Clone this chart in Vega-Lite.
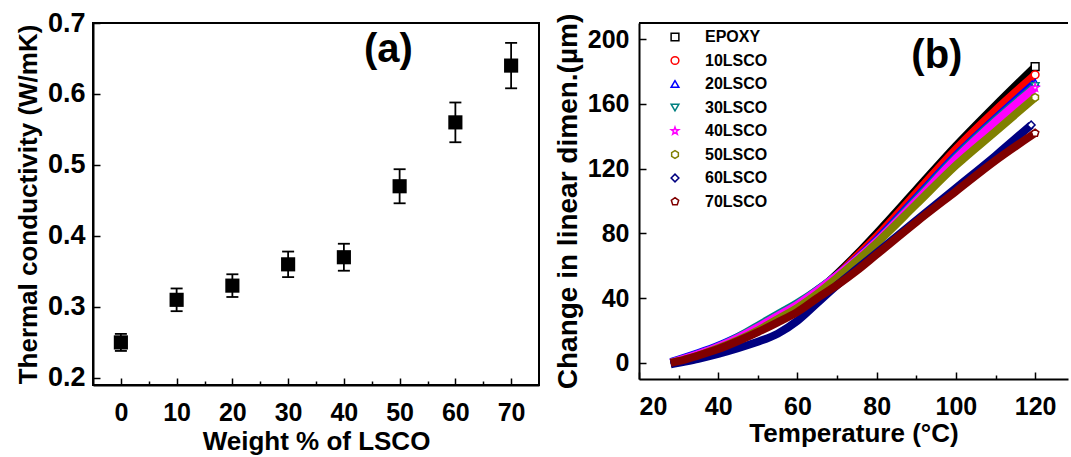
{
  "$schema": "https://vega.github.io/schema/vega-lite/v6.json",
  "padding": {"left": 14, "top": 8, "right": 0, "bottom": 0},
  "spacing": 14,
  "config": {
    "font": "Liberation Sans",
    "view": {"stroke": null},
    "axis": {
      "labelFont": "Liberation Sans", "labelFontWeight": "bold", "labelFontSize": 25, "labelColor": "black",
      "titleFont": "Liberation Sans", "titleFontWeight": "bold", "titleFontSize": 26, "titleColor": "black",
      "domainColor": "black", "domainWidth": 2, "tickColor": "black", "tickWidth": 1.5, "grid": false
    },
    "legend": {
      "labelFont": "Liberation Sans", "labelFontWeight": "bold", "labelFontSize": 16, "labelColor": "black"
    }
  },
  "datasets": {
    "tc": [
      {"w": 0, "k": 0.25, "lo": 0.238, "hi": 0.262},
      {"w": 10, "k": 0.31, "lo": 0.294, "hi": 0.326},
      {"w": 20, "k": 0.33, "lo": 0.314, "hi": 0.346},
      {"w": 30, "k": 0.36, "lo": 0.342, "hi": 0.378},
      {"w": 40, "k": 0.37, "lo": 0.351, "hi": 0.389},
      {"w": 50, "k": 0.47, "lo": 0.446, "hi": 0.494},
      {"w": 60, "k": 0.56, "lo": 0.532, "hi": 0.588},
      {"w": 70, "k": 0.64, "lo": 0.608, "hi": 0.672}
    ],
    "dl": [
      {"s": "EPOXY", "T": 28, "d": 0}, {"s": "EPOXY", "T": 30, "d": 1}, {"s": "EPOXY", "T": 35, "d": 4.5}, {"s": "EPOXY", "T": 40, "d": 9}, {"s": "EPOXY", "T": 45, "d": 14}, {"s": "EPOXY", "T": 50, "d": 20}, {"s": "EPOXY", "T": 55, "d": 27}, {"s": "EPOXY", "T": 60, "d": 35}, {"s": "EPOXY", "T": 65, "d": 44}, {"s": "EPOXY", "T": 70, "d": 55}, {"s": "EPOXY", "T": 75, "d": 67}, {"s": "EPOXY", "T": 80, "d": 80}, {"s": "EPOXY", "T": 90, "d": 107}, {"s": "EPOXY", "T": 100, "d": 134}, {"s": "EPOXY", "T": 110, "d": 159}, {"s": "EPOXY", "T": 120, "d": 183},
      {"s": "10LSCO", "T": 28, "d": 0}, {"s": "10LSCO", "T": 30, "d": 1}, {"s": "10LSCO", "T": 35, "d": 4.5}, {"s": "10LSCO", "T": 40, "d": 9}, {"s": "10LSCO", "T": 45, "d": 14.5}, {"s": "10LSCO", "T": 50, "d": 20.5}, {"s": "10LSCO", "T": 55, "d": 27.5}, {"s": "10LSCO", "T": 60, "d": 35}, {"s": "10LSCO", "T": 65, "d": 44}, {"s": "10LSCO", "T": 70, "d": 54}, {"s": "10LSCO", "T": 75, "d": 66}, {"s": "10LSCO", "T": 80, "d": 78}, {"s": "10LSCO", "T": 90, "d": 105}, {"s": "10LSCO", "T": 100, "d": 132}, {"s": "10LSCO", "T": 110, "d": 156}, {"s": "10LSCO", "T": 120, "d": 178},
      {"s": "20LSCO", "T": 28, "d": 0.5}, {"s": "20LSCO", "T": 30, "d": 2}, {"s": "20LSCO", "T": 35, "d": 6}, {"s": "20LSCO", "T": 40, "d": 10.5}, {"s": "20LSCO", "T": 45, "d": 16}, {"s": "20LSCO", "T": 50, "d": 22}, {"s": "20LSCO", "T": 55, "d": 29}, {"s": "20LSCO", "T": 60, "d": 36}, {"s": "20LSCO", "T": 65, "d": 45}, {"s": "20LSCO", "T": 70, "d": 54}, {"s": "20LSCO", "T": 75, "d": 64.5}, {"s": "20LSCO", "T": 80, "d": 76}, {"s": "20LSCO", "T": 90, "d": 102}, {"s": "20LSCO", "T": 100, "d": 128}, {"s": "20LSCO", "T": 110, "d": 151}, {"s": "20LSCO", "T": 120, "d": 173},
      {"s": "30LSCO", "T": 28, "d": 0}, {"s": "30LSCO", "T": 30, "d": 1.5}, {"s": "30LSCO", "T": 35, "d": 5.5}, {"s": "30LSCO", "T": 40, "d": 10}, {"s": "30LSCO", "T": 45, "d": 16}, {"s": "30LSCO", "T": 50, "d": 23}, {"s": "30LSCO", "T": 55, "d": 30}, {"s": "30LSCO", "T": 60, "d": 37}, {"s": "30LSCO", "T": 65, "d": 45}, {"s": "30LSCO", "T": 70, "d": 54}, {"s": "30LSCO", "T": 75, "d": 64}, {"s": "30LSCO", "T": 80, "d": 75}, {"s": "30LSCO", "T": 90, "d": 101}, {"s": "30LSCO", "T": 100, "d": 127}, {"s": "30LSCO", "T": 110, "d": 150}, {"s": "30LSCO", "T": 120, "d": 171},
      {"s": "40LSCO", "T": 28, "d": 0}, {"s": "40LSCO", "T": 30, "d": 1.5}, {"s": "40LSCO", "T": 35, "d": 5.5}, {"s": "40LSCO", "T": 40, "d": 10}, {"s": "40LSCO", "T": 45, "d": 15.5}, {"s": "40LSCO", "T": 50, "d": 22}, {"s": "40LSCO", "T": 55, "d": 29}, {"s": "40LSCO", "T": 60, "d": 36}, {"s": "40LSCO", "T": 65, "d": 44.5}, {"s": "40LSCO", "T": 70, "d": 54}, {"s": "40LSCO", "T": 75, "d": 64}, {"s": "40LSCO", "T": 80, "d": 75}, {"s": "40LSCO", "T": 90, "d": 100}, {"s": "40LSCO", "T": 100, "d": 126}, {"s": "40LSCO", "T": 110, "d": 149}, {"s": "40LSCO", "T": 120, "d": 170},
      {"s": "50LSCO", "T": 28, "d": 0}, {"s": "50LSCO", "T": 30, "d": 1}, {"s": "50LSCO", "T": 35, "d": 4.5}, {"s": "50LSCO", "T": 40, "d": 9}, {"s": "50LSCO", "T": 45, "d": 14}, {"s": "50LSCO", "T": 50, "d": 20}, {"s": "50LSCO", "T": 55, "d": 27}, {"s": "50LSCO", "T": 60, "d": 34}, {"s": "50LSCO", "T": 65, "d": 42.5}, {"s": "50LSCO", "T": 70, "d": 52.5}, {"s": "50LSCO", "T": 75, "d": 63}, {"s": "50LSCO", "T": 80, "d": 74}, {"s": "50LSCO", "T": 90, "d": 98}, {"s": "50LSCO", "T": 100, "d": 122}, {"s": "50LSCO", "T": 110, "d": 143}, {"s": "50LSCO", "T": 120, "d": 164},
      {"s": "60LSCO", "T": 28, "d": -1}, {"s": "60LSCO", "T": 30, "d": 0}, {"s": "60LSCO", "T": 35, "d": 2.5}, {"s": "60LSCO", "T": 40, "d": 5.5}, {"s": "60LSCO", "T": 45, "d": 9}, {"s": "60LSCO", "T": 50, "d": 13}, {"s": "60LSCO", "T": 55, "d": 18}, {"s": "60LSCO", "T": 60, "d": 26}, {"s": "60LSCO", "T": 65, "d": 37}, {"s": "60LSCO", "T": 70, "d": 48}, {"s": "60LSCO", "T": 75, "d": 58}, {"s": "60LSCO", "T": 80, "d": 68}, {"s": "60LSCO", "T": 90, "d": 88}, {"s": "60LSCO", "T": 100, "d": 108}, {"s": "60LSCO", "T": 110, "d": 128}, {"s": "60LSCO", "T": 119, "d": 147},
      {"s": "70LSCO", "T": 28, "d": 0}, {"s": "70LSCO", "T": 30, "d": 1}, {"s": "70LSCO", "T": 35, "d": 4.5}, {"s": "70LSCO", "T": 40, "d": 8.5}, {"s": "70LSCO", "T": 45, "d": 13.5}, {"s": "70LSCO", "T": 50, "d": 19}, {"s": "70LSCO", "T": 55, "d": 25}, {"s": "70LSCO", "T": 60, "d": 31.5}, {"s": "70LSCO", "T": 65, "d": 40}, {"s": "70LSCO", "T": 70, "d": 48}, {"s": "70LSCO", "T": 75, "d": 57}, {"s": "70LSCO", "T": 80, "d": 67}, {"s": "70LSCO", "T": 90, "d": 87}, {"s": "70LSCO", "T": 100, "d": 106}, {"s": "70LSCO", "T": 110, "d": 125}, {"s": "70LSCO", "T": 120, "d": 142}
    ]
  },
  "hconcat": [
    {
      "width": 446,
      "height": 362,
      "view": {"stroke": "black", "strokeWidth": 2},
      "data": {"name": "tc"},
      "encoding": {
        "x": {
          "field": "w", "type": "quantitative",
          "scale": {"domain": [-5, 75], "nice": false, "zero": false},
          "axis": {
            "title": "Weight % of LSCO",
            "values": [0, 5, 10, 15, 20, 25, 30, 35, 40, 45, 50, 55, 60, 65, 70],
            "labelExpr": "datum.value % 10 === 0 ? datum.label : ''",
            "tickSize": {"condition": {"test": "datum.value % 10 === 0", "value": -7}, "value": -4},
            "labelFontWeight": "bold", "labelFontSize": 25,
            "labelPadding": 22, "titlePadding": 3
          }
        }
      },
      "layer": [
        {
          "mark": {"type": "rule", "strokeWidth": 1.8, "color": "black"},
          "encoding": {
            "y": {
              "field": "lo", "type": "quantitative",
              "scale": {"domain": [0.19, 0.70], "nice": false, "zero": false},
              "axis": {
                "title": "Thermal conductivity (W/mK)",
                "values": [0.2, 0.25, 0.3, 0.35, 0.4, 0.45, 0.5, 0.55, 0.6, 0.65, 0.7],
                "format": ".1f",
                "labelExpr": "round(datum.value * 100) % 10 === 0 ? datum.label : ''",
                "tickSize": {"condition": {"test": "round(datum.value * 100) % 10 === 0", "value": -7}, "value": -4},
                "labelFontWeight": "bold", "labelFontSize": 27,
                "labelPadding": 15, "titlePadding": 6
              }
            },
            "y2": {"field": "hi"}
          }
        },
        {
          "mark": {"type": "tick", "orient": "horizontal", "size": 12, "thickness": 1.8, "color": "black", "opacity": 1},
          "encoding": {"y": {"field": "lo", "type": "quantitative"}}
        },
        {
          "mark": {"type": "tick", "orient": "horizontal", "size": 12, "thickness": 1.8, "color": "black", "opacity": 1},
          "encoding": {"y": {"field": "hi", "type": "quantitative"}}
        },
        {
          "mark": {"type": "square", "size": 200, "color": "black", "opacity": 1},
          "encoding": {"y": {"field": "k", "type": "quantitative"}}
        },
        {
          "transform": [{"filter": "datum.w === 70"}],
          "mark": {"type": "text", "fontSize": 40, "fontWeight": "bold", "font": "Liberation Sans", "color": "black"},
          "encoding": {
            "x": {"datum": 48},
            "y": {"datum": 0.662},
            "text": {"value": "(a)"}
          }
        }
      ]
    },
    {
      "width": 429,
      "height": 356,
      "data": {"name": "dl"},
      "resolve": {"legend": {"color": "independent", "shape": "independent"}},
      "layer": [
        {
          "transform": [{"filter": "datum.T === 28 && datum.s === 'EPOXY'"}],
          "mark": {"type": "rule", "strokeWidth": 2, "color": "black"},
          "encoding": {"y": {"datum": 210, "type": "quantitative"}}
        },
        {
          "mark": {"type": "line", "strokeWidth": 8, "interpolate": "monotone"},
          "encoding": {
            "x": {
              "field": "T", "type": "quantitative",
              "scale": {"domain": [20, 128.3], "nice": false, "zero": false},
              "axis": {
                "title": "Temperature (°C)",
                "values": [20, 30, 40, 50, 60, 70, 80, 90, 100, 110, 120],
                "labelExpr": "datum.value % 20 === 0 ? datum.label : ''",
                "tickSize": {"condition": {"test": "datum.value % 20 === 0", "value": -7}, "value": -4},
                "labelFontWeight": "bold", "labelFontSize": 25,
                "labelPadding": 22, "titlePadding": 1
              }
            },
            "y": {
              "field": "d", "type": "quantitative",
              "scale": {"domain": [-10, 210], "nice": false, "zero": false},
              "axis": {
                "title": "Change in linear dimen.(µm)",
                "values": [0, 20, 40, 60, 80, 100, 120, 140, 160, 180, 200],
                "labelExpr": "datum.value % 40 === 0 ? datum.label : ''",
                "tickSize": {"condition": {"test": "datum.value % 40 === 0", "value": -7}, "value": -4},
                "labelFontWeight": "bold", "labelFontSize": 25, "titleFontSize": 28,
                "labelPadding": 17, "titlePadding": 5
              }
            },
            "color": {
              "field": "s", "type": "nominal",
              "scale": {
                "domain": ["EPOXY", "10LSCO", "20LSCO", "30LSCO", "40LSCO", "50LSCO", "60LSCO", "70LSCO"],
                "range": ["#000000", "#ff0000", "#0000ff", "#008080", "#ff00ff", "#808000", "#000080", "#800000"]
              },
              "legend": null
            }
          }
        },
        {
          "transform": [{"filter": "datum.T >= 119"}],
          "mark": {"type": "point", "filled": false, "fill": "white", "fillOpacity": 1, "strokeWidth": 1.5, "size": 60, "opacity": 1},
          "encoding": {
            "x": {"field": "T", "type": "quantitative"},
            "y": {"field": "d", "type": "quantitative"},
            "color": {
              "field": "s", "type": "nominal",
              "scale": {
                "domain": ["EPOXY", "10LSCO", "20LSCO", "30LSCO", "40LSCO", "50LSCO", "60LSCO", "70LSCO"],
                "range": ["#000000", "#ff0000", "#0000ff", "#008080", "#ff00ff", "#808000", "#000080", "#800000"]
              },
              "legend": {
                "title": null, "orient": "none", "legendX": 28, "legendY": 6,
                "symbolSize": 60, "symbolStrokeWidth": 1.5, "rowPadding": 7.5, "labelOffset": 22
              }
            },
            "shape": {
              "field": "s", "type": "nominal",
              "scale": {
                "domain": ["EPOXY", "10LSCO", "20LSCO", "30LSCO", "40LSCO", "50LSCO", "60LSCO", "70LSCO"],
                "range": [
                  "square", "circle", "triangle-up", "triangle-down",
                  "M0,-1L0.235,-0.324L0.951,-0.309L0.38,0.124L0.588,0.809L0,0.4L-0.588,0.809L-0.38,0.124L-0.951,-0.309L-0.235,-0.324Z",
                  "M0,-1L0.866,-0.5L0.866,0.5L0,1L-0.866,0.5L-0.866,-0.5Z",
                  "diamond",
                  "M0,-1L0.951,-0.309L0.588,0.809L-0.588,0.809L-0.951,-0.309Z"
                ]
              },
              "legend": {
                "title": null, "orient": "none", "legendX": 28, "legendY": 6,
                "symbolSize": 60, "symbolStrokeWidth": 1.5, "rowPadding": 7.5, "labelOffset": 22
              }
            }
          }
        },
        {
          "transform": [{"filter": "datum.T === 28 && datum.s === 'EPOXY'"}],
          "mark": {"type": "text", "fontSize": 40, "fontWeight": "bold", "font": "Liberation Sans", "color": "black"},
          "encoding": {
            "x": {"datum": 95.2},
            "y": {"datum": 189.5},
            "text": {"value": "(b)"}
          }
        }
      ]
    }
  ]
}
